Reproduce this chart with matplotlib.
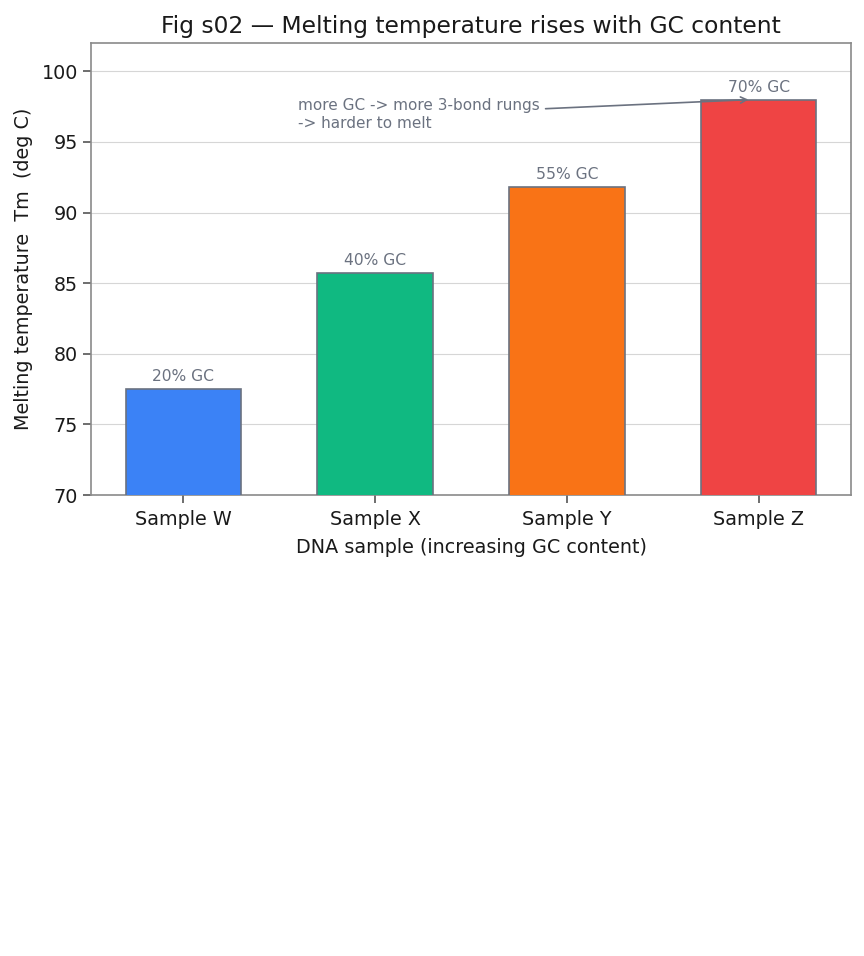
import matplotlib
matplotlib.use("Agg")
import matplotlib.pyplot as plt

# data
samples = ["Sample W", "Sample X", "Sample Y", "Sample Z"]
tm_values = [77.5, 85.7, 91.8, 98.0]
gc_labels = ["20% GC", "40% GC", "55% GC", "70% GC"]
bar_colors = ["#3B82F6", "#10B981", "#F97316", "#EF4444"]

edge_gray = "#6B7280"
spine_gray = "#8A8A8A"

fig = plt.figure(figsize=(8.64, 9.56), dpi=100)
ax = fig.add_axes([0.1053, 0.4822, 0.8797, 0.4728])

x = list(range(len(samples)))
ax.bar(x, tm_values, width=0.6, color=bar_colors, edgecolor=edge_gray,
       linewidth=1.2, zorder=3)

for xi, v, lab in zip(x, tm_values, gc_labels):
    ax.text(xi, v + 0.35, lab, ha="center", va="bottom", fontsize=11.2,
            color=edge_gray, zorder=4)

ax.annotate("more GC -> more 3-bond rungs\n-> harder to melt",
            xy=(2.96, 98.0), xytext=(0.6, 96.95),
            ha="left", va="center", fontsize=11, color=edge_gray,
            arrowprops=dict(arrowstyle="->", color=edge_gray, lw=1.2),
            zorder=5)

ax.set_ylim(70, 102)
ax.set_xticks(x)
ax.set_xticklabels(samples)
ax.set_yticks([70, 75, 80, 85, 90, 95, 100])
ax.grid(axis="y", color="#D6D6D6", linewidth=0.8, zorder=0)
ax.set_axisbelow(True)

for s in ax.spines.values():
    s.set_color(spine_gray)
    s.set_linewidth(1.2)
ax.tick_params(axis="both", labelsize=13.8, length=6, width=1.2,
               color="#555555", labelcolor="#1A1A1A")
ax.tick_params(axis="x", pad=5)

ax.set_xlabel("DNA sample (increasing GC content)", fontsize=13.8,
              color="#1A1A1A", labelpad=6)
ax.set_ylabel("Melting temperature  Tm  (deg C)", fontsize=13.8,
              color="#1A1A1A", labelpad=6)
ax.set_title("Fig s02 \u2014 Melting temperature rises with GC content",
             fontsize=16.8, color="#1A1A1A", pad=7)

fig.savefig("out.png", dpi=100)
